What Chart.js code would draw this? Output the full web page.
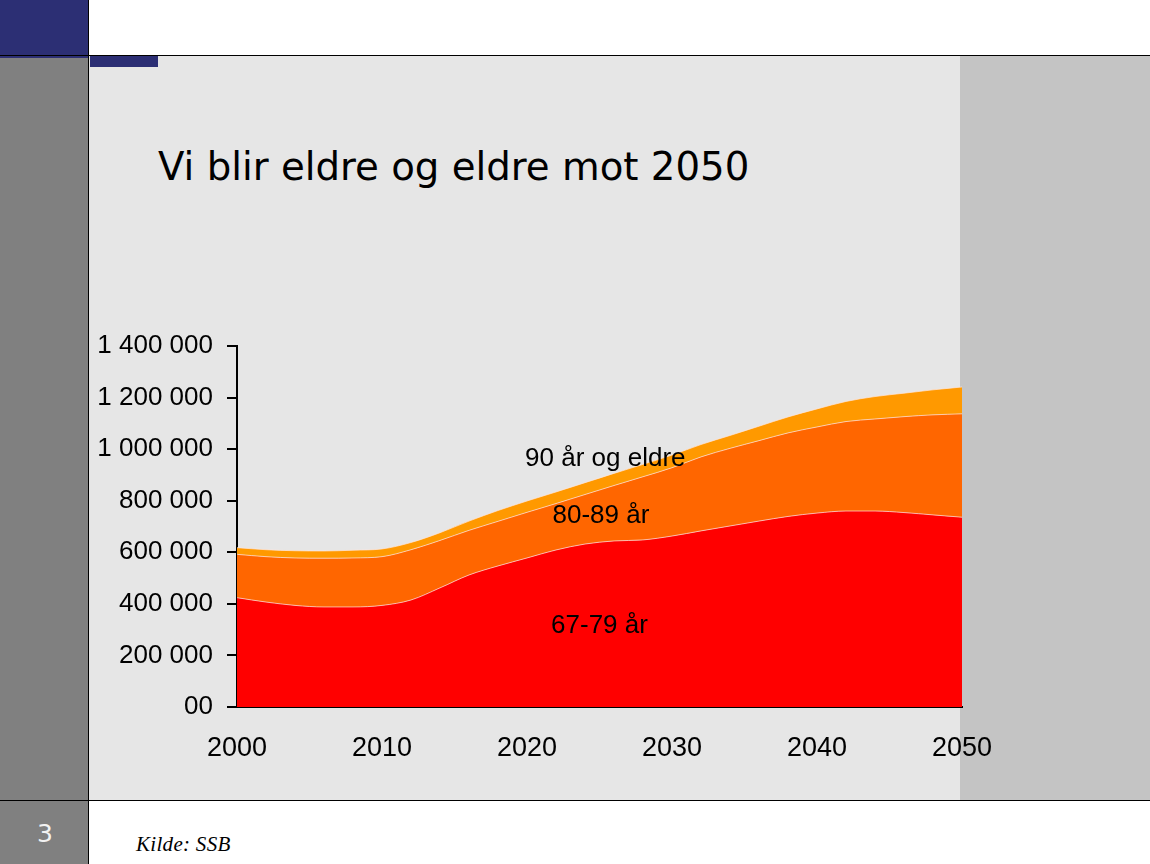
<!DOCTYPE html>
<html>
<head>
<meta charset="utf-8">
<script src="https://cdn.jsdelivr.net/npm/chart.js@4.4.1/dist/chart.umd.min.js"></script>
<style>
  html, body { margin: 0; padding: 0; width: 1150px; height: 864px; overflow: hidden; background: #fff; }
  .abs { position: absolute; }
  #wrap { position: absolute; left: 0; top: 0; width: 1150px; height: 864px; }
  #title { font-family: "DejaVu Sans", sans-serif; font-size: 38.7px; color: #000; left: 158px; top: 144px; white-space: nowrap; line-height: 46px; }
  #pagenum { font-family: "DejaVu Sans", sans-serif; font-size: 25px; color: #f2f2f2; left: 0; width: 90px; text-align: center; top: 819px; line-height: 30px; }
  #source { font-family: "Liberation Serif", "Times New Roman", serif; font-style: italic; font-size: 21px; letter-spacing: 0.3px; color: #000; left: 136px; top: 831px; line-height: 26px; white-space: nowrap; }
</style>
</head>
<body>
<div class="abs" style="left:0;top:0;width:1150px;height:55px;background:#fff;"></div>
<div class="abs" style="left:0;top:0;width:88px;height:58px;background:#2c2f74;"></div>
<div class="abs" style="left:0;top:58px;width:88px;height:806px;background:#808080;"></div>
<div class="abs" style="left:89px;top:56px;width:871px;height:744px;background:#e6e6e6;"></div>
<div class="abs" style="left:960px;top:56px;width:190px;height:744px;background:#c4c4c4;"></div>
<div class="abs" style="left:90px;top:56px;width:68px;height:11px;background:#2c2f74;"></div>
<div class="abs" style="left:0;top:55px;width:1150px;height:1px;background:#000;"></div>
<div class="abs" style="left:0;top:800px;width:1150px;height:1px;background:#000;"></div>
<div class="abs" style="left:88px;top:0;width:1px;height:864px;background:#000;"></div>
<div class="abs" id="title">Vi blir eldre og eldre mot 2050</div>
<div class="abs" id="pagenum">3</div>
<div class="abs" id="source">Kilde: SSB</div>
<div id="wrap"><canvas id="c" width="1150" height="864"></canvas></div>
<script>
// ---- Data ----
const years = [2000,2002,2004,2006,2008,2010,2012,2014,2016,2018,2020,2022,2024,2026,2028,2030,2032,2034,2036,2038,2040,2042,2044,2046,2048,2050];
const age6779 = [424000,407000,394000,388000,388000,394000,415000,462000,512000,547000,578000,609000,632000,644000,648000,663000,683000,702000,721000,739000,752000,760000,760000,754000,745000,736000];
const age8089 = [168000,176000,184000,189000,190000,189000,195000,184000,173000,173000,177000,180000,192000,215000,245000,265000,287000,301000,312000,324000,334000,347000,357000,372000,388000,401000];
const age90 = [26000,27000,28000,28000,30000,30000,28000,30000,36000,42000,44000,45000,46000,47000,48000,49000,48000,50000,56000,62000,70000,78000,87000,91000,97000,104000];
const seriesNames = ["67-79 år", "80-89 år", "90 år og eldre"];
const yTicks = [0,200000,400000,600000,800000,1000000,1200000,1400000];
const yTickLabels = ["00","200 000","400 000","600 000","800 000","1 000 000","1 200 000","1 400 000"];
const xTickLabels = ["2000","2010","2020","2030","2040","2050"];
// in-chart labels: [text, year, value]
const areaLabels = [["90 år og eldre", 2025.4, 962000], ["80-89 år", 2025.1, 741000], ["67-79 år", 2025.0, 314000]];

const toXY = arr => arr.map((v, i) => ({x: years[i], y: v}));

const labelPlugin = {
  id: 'areaLabels',
  afterDatasetsDraw(chart) {
    const ctx = chart.ctx;
    const xs = chart.scales.x, ys = chart.scales.y;
    ctx.save();
    ctx.font = '26px "Liberation Sans", Arial, sans-serif';
    ctx.fillStyle = '#000';
    ctx.textAlign = 'center';
    ctx.textBaseline = 'middle';
    areaLabels.forEach(([t, xv, yv]) => ctx.fillText(t, xs.getPixelForValue(xv), ys.getPixelForValue(yv)));
    ctx.restore();
  }
};

const common = {pointRadius: 0, borderWidth: 1, tension: 0.4, cubicInterpolationMode: 'monotone', borderColor: 'rgba(255,230,220,0.7)'};

new Chart(document.getElementById('c'), {
  type: 'line',
  data: {
    datasets: [
      Object.assign({label: seriesNames[0], data: toXY(age6779), backgroundColor: '#ff0000', fill: 'origin'}, common),
      Object.assign({label: seriesNames[1], data: toXY(age8089), backgroundColor: '#ff6600', fill: '-1'}, common),
      Object.assign({label: seriesNames[2], data: toXY(age90), backgroundColor: '#ff9900', fill: '-1'}, common)
    ]
  },
  options: {
    responsive: false,
    animation: false,
    events: [],
    layout: {padding: {left: 90, right: 188, top: 346, bottom: 57}},
    plugins: {legend: {display: false}, tooltip: {enabled: false}},
    scales: {
      x: {
        type: 'linear', min: 2000, max: 2050,
        afterBuildTicks: s => { s.ticks = xTickLabels.map(v => ({value: +v})); },
        afterFit: s => { s.height = 100; },
        grid: {display: false, drawTicks: false},
        border: {display: true, color: '#000', width: 2},
        ticks: {color: '#000', padding: 25, maxRotation: 0, autoSkip: false,
          font: {family: '"Liberation Sans", Arial, sans-serif', size: 27},
          callback: (v) => String(v)}
      },
      y: {
        stacked: true, min: 0, max: 1400000,
        afterBuildTicks: s => { s.ticks = yTicks.map(v => ({value: v})); },
        afterFit: s => { s.width = 147; },
        grid: {display: true, drawOnChartArea: false, drawTicks: true, tickLength: 10, color: '#000', lineWidth: 2},
        border: {display: true, color: '#000', width: 2},
        ticks: {color: '#000', padding: 14, autoSkip: false,
          font: {family: '"Liberation Sans", Arial, sans-serif', size: 26},
          callback: (v) => yTickLabels[yTicks.indexOf(v)]}
      }
    }
  },
  plugins: [labelPlugin]
});
</script>
</body>
</html>
